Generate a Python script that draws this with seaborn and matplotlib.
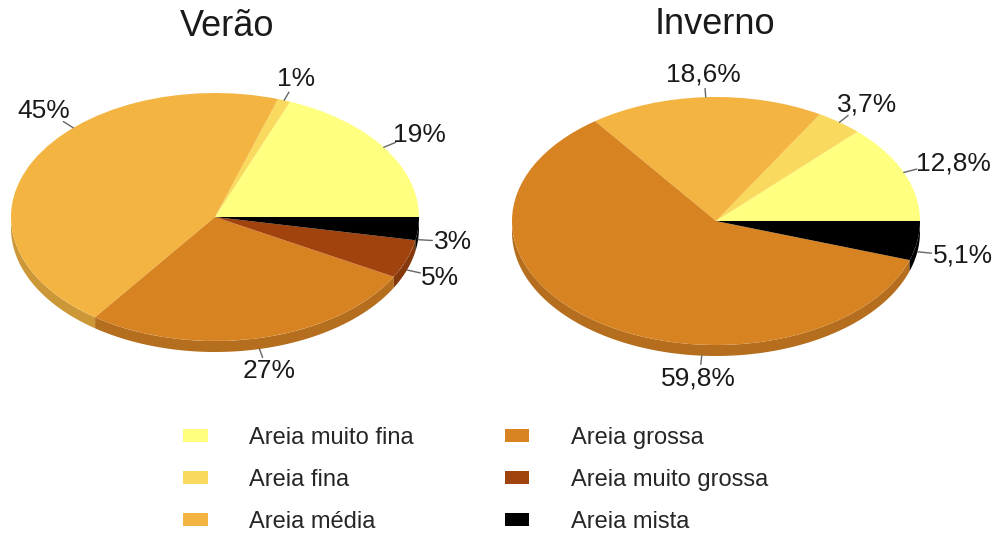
import numpy as np
import matplotlib
matplotlib.use('Agg')
import matplotlib.pyplot as plt
from matplotlib.patches import Patch
from matplotlib.colors import to_rgb
import seaborn as sns

# ---------------- data ----------------
categories = ['Areia muito fina', 'Areia fina', 'Areia média',
              'Areia grossa', 'Areia muito grossa', 'Areia mista']
verao = [19, 1, 45, 27, 5, 3]
verao_labels = ['19%', '1%', '45%', '27%', '5%', '3%']
inverno = [12.8, 3.7, 18.6, 59.8, 0, 5.1]
inverno_labels = ['12,8%', '3,7%', '18,6%', '59,8%', '', '5,1%']
titles = ['Verão', 'Inverno']

# ---------------- style ----------------
colors = ['#FFFF80', '#F9D95E', '#F3B441', '#D78322', '#A0430F', '#000000']
# label angles moved away from the slice middle (layout only)
label_angle_override = [{2: 134}, {3: 266}]

sns.set_theme(style='white')
plt.rcParams['font.family'] = ['Liberation Sans', 'DejaVu Sans']

W, H = 999, 533
fig = plt.figure(figsize=(W / 100, H / 100), dpi=100)
RX, RY, D = 204, 124, 11
depth = D / RY
centers = [(215, 217), (716, 221)]
title_pos = [(227, 27), (715, 25)]


def draw(ax, values, labels, overrides):
    fr = np.array(values, dtype=float) / sum(values)
    edges = np.concatenate([[0], np.cumsum(fr)]) * 360
    # side (thickness) of the lower half
    for i in range(len(values)):
        lo, hi = max(edges[i], 180), min(edges[i + 1], 360)
        if hi <= lo:
            continue
        t = np.radians(np.linspace(lo, hi, 120))
        x, y = np.cos(t), np.sin(t)
        side = tuple(np.array(to_rgb(colors[i])) * 0.84)
        ax.fill(np.concatenate([x, x[::-1]]),
                np.concatenate([y, y[::-1] - depth]),
                color=side, lw=0, zorder=1)
    ax.pie(values, colors=colors, startangle=0, counterclock=True,
           wedgeprops=dict(linewidth=0, zorder=2))
    ax.set_aspect('auto')
    ax.set_xlim(-1, 1)
    ax.set_ylim(-1 - depth, 1)
    ax.axis('off')
    renderer = fig.canvas.get_renderer()
    for i, lab in enumerate(labels):
        if values[i] <= 0:
            continue
        ang = overrides.get(i, (edges[i] + edges[i + 1]) / 2)
        a = np.radians(ang)
        c, s = np.cos(a), np.sin(a)
        yoff = -depth if s < 0 else 0
        ax.plot([c * 1.0, c * 1.07], [s * 1.0 + yoff, s * 1.07 + yoff],
                color='#666666', lw=1, clip_on=False, zorder=3)
        t = ax.annotate(lab, xy=(c * 1.07, s * 1.07 + yoff), xytext=(0, 0),
                        textcoords='offset pixels', ha='center', va='center',
                        fontsize=19, color='#1a1a1a', annotation_clip=False)
        bb = t.get_window_extent(renderer)
        t.set_position((c * (bb.width / 2 + 2), s * (bb.height / 2 + 2)))


for k, (vals, labs) in enumerate([(verao, verao_labels), (inverno, inverno_labels)]):
    cx, cy = centers[k]
    ax = fig.add_axes([(cx - RX) / W, (H - (cy + RY + D)) / H,
                       2 * RX / W, (2 * RY + D) / H])
    draw(ax, vals, labs, label_angle_override[k])
    tx, ty = title_pos[k]
    fig.text(tx / W, 1 - ty / H, titles[k], ha='center', va='center',
             fontsize=26, color='#1a1a1a')

handles = [Patch(facecolor=colors[i], edgecolor='none', label=categories[i])
           for i in range(len(categories))]
fig.legend(handles=handles, loc='upper left', bbox_to_anchor=(183 / W, 1 - 427 / H),
           ncol=2, frameon=False, fontsize=17, borderpad=0, borderaxespad=0,
           handlelength=1.05, handleheight=0.5, handletextpad=1.75,
           columnspacing=3.85, labelspacing=0.84)

fig.savefig('out.png', dpi=100)
